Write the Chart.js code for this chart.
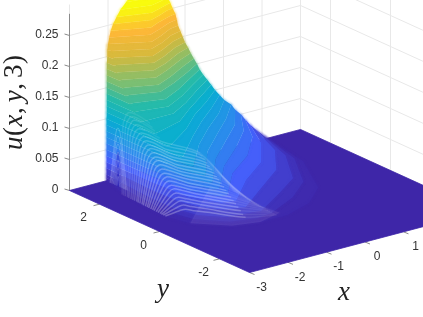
<!DOCTYPE html>
<html>
<head>
<meta charset="utf-8">
<style>
  html, body { margin: 0; padding: 0; background: #fff; }
  canvas { display: block; filter: blur(0.3px); }
</style>
</head>
<body>
<canvas id="surfChart" width="423" height="317"></canvas>
<script src="https://cdn.jsdelivr.net/npm/chart.js@4"></script>
<script>
// tick values and labels
const xTicks = [-3, -2, -1, 0, 1, 2, 3];
const yTicks = [-2, 0, 2];
const zTicks = [0, 0.05, 0.1, 0.15, 0.2, 0.25];
const zTickLabels = ['0', '0.05', '0.1', '0.15', '0.2', '0.25'];

// u(x,y,3) read off the picture as level curves: each curve runs from the
// back edge y=3, round the front of the hump and back to y=3
const levelU = [0, 0.005, 0.01, 0.02, 0.03, 0.04, 0.05, 0.06, 0.07, 0.08, 0.09, 0.1, 0.11, 0.12, 0.13, 0.14,
  0.15, 0.16, 0.17, 0.18, 0.19, 0.2, 0.21, 0.22, 0.23, 0.24, 0.25, 0.26, 0.27, 0.28, 0.29, 0.3];
const levelX = [
  [-2.04, -2.2, -2.32, -2.36, -2.2, -1.6, -1, -0.3, 0.5, 1.2, 1.9, 2.14],
  [-2.04, -2.15, -2.22, -2.25, -2.1, -1.6, -1, -0.6, 0.3, 1.05, 1.75, 2.05],
  [-2.04, -2.1, -2.15, -2.15, -2, -1.6, -0.8, 0.1, 0.9, 1.6, 1.98],
  [-2.04, -2.05, -2.08, -2.05, -1.9, -1.6, -1.15, -0.2, 0.7, 1.4, 1.82],
  [-2.04, -2.03, -1.95, -1.62, -1.3, -0.4, 0.5, 1.2, 1.68],
  [-2.04, -2.03, -1.95, -1.65, -1.45, -0.6, 0.3, 1.05, 1.56],
  [-2.04, -2.03, -1.95, -1.72, -1.6, -0.7, 0.15, 0.9, 1.45],
  [-2.04, -2.03, -1.95, -1.78, -1.7, -0.8, 0, 0.75, 1.3],
  [-2.04, -2.03, -1.95, -1.8, -0.9, -0.1, 0.6, 1.2],
  [-2.04, -2.03, -1.95, -1.88, -1, -0.25, 0.45, 1.02],
  [-2.04, -2.03, -1.98, -1.92, -1.05, -0.35, 0.3, 0.9],
  [-2.04, -2.03, -2, -1.92, -1.1, -0.45, 0.2, 0.78],
  [-2.03, -2.03, -1.92, -1.15, -0.55, 0.1, 0.68],
  [-2.03, -2.02, -1.92, -1.2, -0.6, 0, 0.58],
  [-2.03, -2.02, -1.92, -1.25, -0.65, -0.05, 0.47],
  [-2.03, -2.02, -1.92, -1.25, -0.7, -0.1, 0.38],
  [-2.03, -2.02, -1.93, -1.3, -0.75, -0.15, 0.31],
  [-2.03, -2.02, -1.93, -1.3, -0.8, -0.2, 0.23],
  [-2.03, -2.02, -1.94, -1.3, -0.85, -0.25, 0.15],
  [-2.03, -2.02, -1.95, -1.3, -0.85, -0.3, 0.08],
  [-2.03, -2.02, -1.95, -1.25, -0.85, -0.35, 0],
  [-2.02, -2.01, -1.95, -1.25, -0.85, -0.38, -0.06],
  [-2.02, -1.97, -1.25, -0.85, -0.42, -0.12],
  [-2, -1.2, -0.85, -0.45, -0.18],
  [-1.97, -1.2, -0.85, -0.45, -0.21],
  [-1.93, -1.15, -0.85, -0.45, -0.25],
  [-1.87, -1.1, -0.8, -0.5, -0.32],
  [-1.78, -1.05, -0.75, -0.38],
  [-1.68, -1, -0.7, -0.45],
  [-1.53, -1, -0.7, -0.55],
  [-1.35, -1, -0.65],
  [-1.02, -0.95]
];
const levelY = [
  [3, 2.3, 1.5, 0.6, 0, -0.62, -0.8, -0.8, -0.5, 0.1, 1.5, 3],
  [3, 2.3, 1.5, 0.6, 0, -0.55, -0.72, -0.65, -0.2, 0.4, 1.6, 3],
  [3, 2.3, 1.5, 0.6, 0, -0.45, -0.58, 0, 0.55, 1.7, 3],
  [3, 2.3, 1.5, 0.6, 0.05, -0.35, -0.5, 0.2, 0.85, 1.8, 3],
  [3, 1.5, 0.4, -0.3, -0.38, 0.45, 1.1, 2, 3],
  [3, 1.5, 0.4, -0.25, -0.28, 0.65, 1.3, 2.1, 3],
  [3, 1.5, 0.4, -0.15, -0.2, 0.8, 1.5, 2.2, 3],
  [3, 1.5, 0.4, -0.08, -0.1, 0.95, 1.65, 2.3, 3],
  [3, 1.5, 0.4, 0, 1.1, 1.8, 2.4, 3],
  [3, 1.5, 0.4, 0.3, 1.25, 1.9, 2.45, 3],
  [3, 1.5, 0.6, 0.6, 1.4, 2, 2.5, 3],
  [3, 1.5, 1, 1, 1.55, 2.1, 2.55, 3],
  [3, 1.45, 1.45, 1.7, 2.15, 2.6, 3],
  [3, 1.85, 1.85, 1.85, 2.2, 2.62, 3],
  [3, 2.1, 2.1, 1.95, 2.27, 2.67, 3],
  [3, 2.25, 2.25, 2.05, 2.33, 2.7, 3],
  [3, 2.38, 2.38, 2.15, 2.4, 2.73, 3],
  [3, 2.49, 2.49, 2.22, 2.45, 2.78, 3],
  [3, 2.6, 2.6, 2.3, 2.5, 2.82, 3],
  [3, 2.7, 2.7, 2.37, 2.55, 2.85, 3],
  [3, 2.78, 2.78, 2.43, 2.6, 2.88, 3],
  [3, 2.85, 2.85, 2.47, 2.65, 2.9, 3],
  [3, 2.92, 2.52, 2.68, 2.92, 3],
  [3, 2.57, 2.72, 2.93, 3],
  [3, 2.62, 2.76, 2.95, 3],
  [3, 2.66, 2.8, 2.95, 3],
  [3, 2.72, 2.83, 2.96, 3],
  [3, 2.76, 2.87, 3],
  [3, 2.82, 2.9, 3],
  [3, 2.88, 2.95, 3],
  [3, 2.95, 3],
  [3, 3]
];

// mesh lines showing on the steep front face, back to front.
// the first five only show on the left part of the face
const meshFootX = [-2.28, -2.29, -2.29, -2.29, -2.30, -2.30, -2.30, -2.30, -2.30, -2.31, -2.31, -2.31, -2.32, -2.32, -2.32, -2.33, -2.33, -2.33, -2.34, -2.34, -2.34, -2.34, -2.35, -2.35, -2.35];
const meshFootY = [2.17, 2.11, 2.05, 1.98, 1.92, 1.85, 1.79, 1.73, 1.66, 1.60, 1.54, 1.47, 1.41, 1.34, 1.28, 1.22, 1.15, 1.09, 1.03, 0.96, 0.90, 0.83, 0.77, 0.71, 0.64];
const meshShoulderY = [2.50, 2.42, 2.34, 2.26, 2.18, 2.10, 2.02, 1.94, 1.86, 1.78, 1.70, 1.62, 1.54, 1.46, 1.38, 1.30, 1.22, 1.14, 1.06, 0.98, 0.90, 0.82, 0.74, 0.66, 0.58];
const meshShoulderU = [0.100, 0.096, 0.092, 0.088, 0.084, 0.080, 0.076, 0.072, 0.068, 0.064, 0.060, 0.057, 0.053, 0.049, 0.045, 0.041, 0.037, 0.033, 0.029, 0.025, 0.021, 0.017, 0.013, 0.009, 0.005];
const meshTopY = [2.46, 2.38, 2.30, 2.22, 2.14, 2.06, 1.98, 1.90, 1.82, 1.74, 1.66, 1.58, 1.50, 1.42, 1.34, 1.26, 1.18, 1.10, 1.02, 0.94, 0.86, 0.78, 0.70, 0.62, 0.54];
const meshTopU = [0.119, 0.114, 0.110, 0.105, 0.100, 0.095, 0.091, 0.086, 0.081, 0.077, 0.072, 0.067, 0.063, 0.058, 0.053, 0.048, 0.044, 0.039, 0.034, 0.030, 0.025, 0.020, 0.016, 0.011, 0.006];
const meshNearY = [2.32, 2.24, 2.16, 2.08, 2.00, 1.92, 1.84, 1.76, 1.68, 1.60, 1.52, 1.44, 1.36, 1.28, 1.20, 1.12, 1.04, 0.96, 0.88, 0.80, 0.72, 0.64, 0.56, 0.48, 0.40];
const meshNearU = [0.118, 0.113, 0.109, 0.103, 0.099, 0.094, 0.090, 0.085, 0.080, 0.076, 0.071, 0.066, 0.062, 0.057, 0.052, 0.047, 0.043, 0.038, 0.033, 0.029, 0.024, 0.019, 0.015, 0.010, 0.005];
const meshArmY = [2.11, 2.03, 1.95, 1.87, 1.79, 1.71, 1.63, 1.55, 1.47, 1.39, 1.31, 1.23, 1.15, 1.07, 0.99, 0.91, 0.83, 0.75, 0.67, 0.59, 0.51, 0.43, 0.35, 0.27, 0.19];
const meshArmU = [0.105, 0.100, 0.096, 0.092, 0.088, 0.084, 0.080, 0.075, 0.071, 0.067, 0.063, 0.058, 0.054, 0.050, 0.046, 0.042, 0.037, 0.033, 0.029, 0.025, 0.021, 0.016, 0.012, 0.008, 0.004];
const meshMidY = [0.06, -0.02, -0.10, -0.18, -0.26, -0.34, -0.42, -0.50, -0.58, -0.66, -0.74, -0.82, -0.90, -0.98, -1.06, -1.14, -1.22, -1.30, -1.38, -1.46];
const meshMidU = [0.107, 0.104, 0.100, 0.096, 0.092, 0.089, 0.085, 0.081, 0.078, 0.074, 0.070, 0.066, 0.063, 0.059, 0.055, 0.052, 0.048, 0.044, 0.040, 0.037];
const meshFarY = [-0.59, -0.66, -0.74, -0.81, -0.88, -0.96, -1.03, -1.10, -1.18, -1.25, -1.32, -1.40, -1.47, -1.54, -1.62, -1.69, -1.76, -1.84, -1.91, -1.98];
const meshFarU = [0.052, 0.052, 0.051, 0.051, 0.051, 0.051, 0.050, 0.050, 0.050, 0.049, 0.049, 0.049, 0.048, 0.048, 0.048, 0.047, 0.047, 0.047, 0.046, 0.046];

// narrow arches near the back edge
const archTopU = [0.094, 0.081, 0.068, 0.055, 0.042, 0.029, 0.016];
const archLeftY = [2.87, 2.84, 2.80, 2.76, 2.72, 2.68, 2.64];
const archRightY = [2.30, 2.34, 2.38, 2.42, 2.46, 2.50, 2.54];

// colour stops of the surface, low to high
const parulaStops = [[62, 38, 168], [70, 93, 251], [40, 144, 235], [8, 173, 210], [38, 187, 170],
  [134, 191, 108], [215, 186, 60], [253, 184, 56], [249, 251, 14]];
const colorMax = 0.27;

function parula(u) {
  const t = Math.min(1, Math.max(0, u / colorMax)) * (parulaStops.length - 1);
  const i = Math.min(parulaStops.length - 2, Math.floor(t));
  const f = t - i;
  const c = parulaStops[i].map((v, k) => Math.round(v + (parulaStops[i + 1][k] - v) * f));
  return `rgb(${c[0]},${c[1]},${c[2]})`;
}

// view of the 3D box, gives plot coordinates for a data point
function project(x, y, z) {
  return {
    x: 69.5 + (x + 3) * 38.5 + (3 - y) * 30,
    y: 190.5 - (x + 3) * 10.17 + (3 - y) * 13.67 - z * 620
  };
}

const gridColor = '#e8e8e8';
const axisColor = '#8a8a8a';
const meshFade = 'rgba(255,255,255,0.08)';
const speckle = 'rgba(255,230,255,0.08)';
const archColor = 'rgba(255,255,255,0.2)';
const archCore = 'rgba(48,40,190,0.3)';
const datasets = [];

function addLine(points, color, width, tension) {
  datasets.push({ data: points, borderColor: color, borderWidth: width, showLine: true, pointRadius: 0, fill: false, tension: tension || 0 });
}
function addShape(points, color, tension) {
  datasets.push({ data: points, borderColor: color, backgroundColor: color, borderWidth: 0.8, showLine: true, pointRadius: 0, fill: 'shape', tension: tension || 0 });
}

// grid on the back walls
zTicks.forEach(z => {
  addLine([project(-3, 3, z), project(3, 3, z), project(3, -3, z)], gridColor, 1);
});
xTicks.forEach(x => addLine([project(x, 3, 0), project(x, 3, 0.3)], gridColor, 1));
yTicks.concat([3]).forEach(y => addLine([project(3, y, 0), project(3, y, 0.3)], gridColor, 1));

// axis line and ticks
addLine([project(-3, 3, 0), project(-3, 3, 0.285)], axisColor, 1);
zTicks.forEach(z => {
  const p = project(-3, 3, z);
  addLine([p, { x: p.x - 5, y: p.y - 1.5 }], axisColor, 1);
});
yTicks.forEach(y => {
  const p = project(-3, y, 0);
  addLine([p, { x: p.x - 6, y: p.y + 1.5 }], axisColor, 1);
});
xTicks.forEach(x => {
  const p = project(x, -3, 0);
  addLine([p, { x: p.x + 5, y: p.y + 2 }], axisColor, 1);
});

// floor of the surface
addShape([project(-3, 3, 0), project(3, 3, 0), project(3, -3, 0), project(-3, -3, 0), project(-3, 3, 0)], parula(0));

// bands between level curves, low first so higher ones cover them
for (let k = 0; k < levelU.length - 1; k++) {
  const low = levelX[k].map((x, i) => project(x, levelY[k][i], levelU[k]));
  const high = levelX[k + 1].map((x, i) => project(x, levelY[k + 1][i], levelU[k + 1])).reverse();
  const ring = low.concat(high);
  ring.push(ring[0]);
  addShape(ring, parula((levelU[k] + levelU[k + 1]) / 2));
  datasets[datasets.length - 1].softEdge = true;
}

// darker cores of the narrow arches
[3, 5].forEach(i => {
  addShape([project(-2.05, archLeftY[i], 0), project(-2.05, 2.6, archTopU[i]), project(-2.05, archRightY[i], 0)], archCore, 0.4);
  datasets[datasets.length - 1].softEdge = true;
});

// light haze where the mesh lines get too fine to tell apart
addShape([project(-2.2, 0, 0), project(-1.6, -0.62, 0), project(-1, -0.8, 0), project(-0.35, -0.6, 0),
  project(-0.9, -0.15, 0.02), project(-1.9, -0.27, 0.06), project(-2.2, 0, 0)], speckle);
datasets[datasets.length - 1].softEdge = true;

// mesh lines on top of the bands, fainter towards the back
meshTopY.forEach((topY, i) => {
  const points = [
    project(meshFootX[i], meshFootY[i], 0),
    project(-2, meshShoulderY[i], meshShoulderU[i]),
    project(-1.9, topY, meshTopU[i]),
    project(-1.8, meshNearY[i], meshNearU[i]),
    project(-1.6, meshArmY[i], meshArmU[i])
  ];
  if (i >= 5) {
    points.push(project(-1.9, meshMidY[i - 5], meshMidU[i - 5]));
    points.push(project(-1.5, meshFarY[i - 5], meshFarU[i - 5]));
  }
  const lineColor = `rgba(255,255,255,${(0.1 + 0.17 * Math.min(1, i / 12)).toFixed(2)})`;
  addLine(points, lineColor, 1.5, 0.3);
  // the far end of each line dissolves into the surface
  datasets[datasets.length - 1].segment = {
    borderColor: c => c.p1DataIndex === points.length - 1 ? meshFade : lineColor
  };
});
archTopU.forEach((u, i) => {
  addLine([project(-2.05, archLeftY[i], 0), project(-2.05, 2.6, u), project(-2.05, archRightY[i], 0)], archColor, 1, 0.4);
});

// Chart.js paints the first dataset on top, the list above is back to front
datasets.reverse();

const tickFont = '12px "Liberation Sans", Arial, sans-serif';
const mathItalic = 'italic 27px "Liberation Serif", serif';
const mathRoman = '27px "Liberation Serif", serif';

// bands get a soft edge so the steps between levels do not show
const softPlugin = {
  id: 'soft',
  beforeDatasetDraw(chart, args) {
    if (chart.data.datasets[args.index].softEdge) chart.ctx.filter = 'blur(1px)';
  },
  afterDatasetDraw(chart) {
    chart.ctx.filter = 'none';
  }
};

const labelPlugin = {
  id: 'labels',
  afterDatasetsDraw(chart) {
    const ctx = chart.ctx;
    const sx = chart.scales.x, sy = chart.scales.y;
    const at = p => ({ x: sx.getPixelForValue(p.x), y: sy.getPixelForValue(p.y) });
    ctx.save();
    ctx.fillStyle = '#333';
    ctx.font = tickFont;
    ctx.textBaseline = 'middle';
    ctx.textAlign = 'right';
    zTicks.forEach((z, i) => {
      const p = at(project(-3, 3, z));
      ctx.fillText(zTickLabels[i], p.x - 11, p.y - 1);
    });
    ctx.textAlign = 'center';
    yTicks.forEach(y => {
      const p = at(project(-3, y, 0));
      ctx.fillText(String(y), p.x - 16, p.y + 14);
    });
    xTicks.slice(0, 5).forEach(x => {
      const p = at(project(x, -3, 0));
      ctx.fillText(String(x), p.x + 12, p.y + 15);
    });
    ctx.fillStyle = '#222';
    ctx.font = mathItalic;
    ctx.fillText('y', 163, 290);
    ctx.fillText('x', 344, 293);
    // rotated label, letters italic and the rest upright
    ctx.translate(15, 150);
    ctx.rotate(-Math.PI / 2);
    ctx.textAlign = 'left';
    let pos = 0;
    [['u', mathItalic], ['(', mathRoman], ['x', mathItalic], [',', mathRoman], ['y', mathItalic], [',', mathRoman], ['3', mathRoman], [')', mathRoman]].forEach(part => {
      ctx.font = part[1];
      ctx.fillText(part[0], pos, 0);
      pos += ctx.measureText(part[0]).width + (part[0] === ',' ? 5 : 0.5);
    });
    ctx.restore();
  }
};

const surfChart = new Chart(document.getElementById('surfChart').getContext('2d'), {
  type: 'scatter',
  data: { datasets: datasets },
  options: {
    responsive: false,
    animation: false,
    layout: { padding: 0 },
    plugins: { legend: { display: false }, tooltip: { enabled: false } },
    scales: {
      x: { type: 'linear', display: false, min: 0, max: 423 },
      y: { type: 'linear', display: false, min: 0, max: 317, reverse: true }
    }
  },
  plugins: [softPlugin, labelPlugin]
});
</script>
</body>
</html>
